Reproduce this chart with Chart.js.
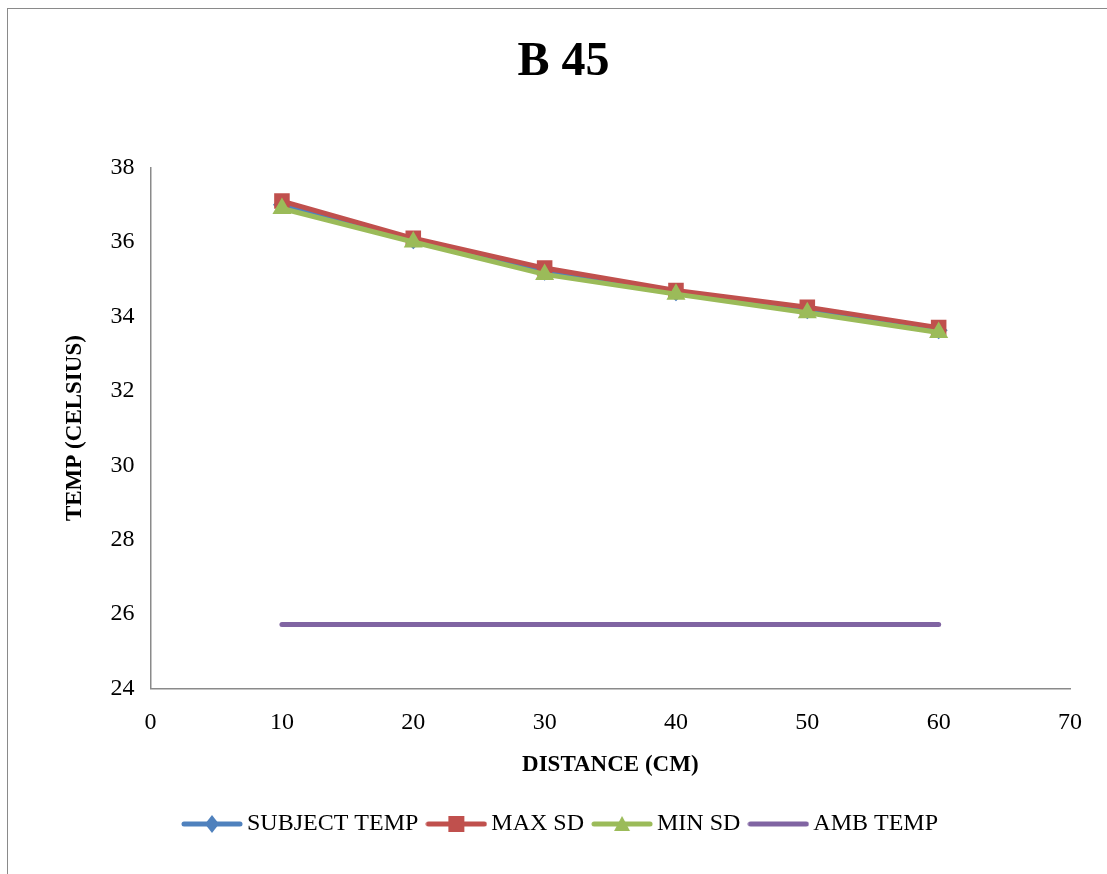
<!DOCTYPE html>
<html>
<head>
<meta charset="utf-8">
<script src="https://cdn.jsdelivr.net/npm/chart.js@4"></script>
<style>
  html, body { margin: 0; padding: 0; background: #fff; }
  #wrap { position: relative; width: 1107px; height: 874px; }
  #frame { position: absolute; left: 7px; top: 8px; width: 1110px; height: 880px; border: 1.5px solid #8a8a8a; box-sizing: border-box; pointer-events: none; }
</style>
</head>
<body>
<div id="wrap">
  <canvas id="myChart" width="1107" height="874"></canvas>
  <div id="frame"></div>
</div>
<script>
const distances = [10, 20, 30, 40, 50, 60];
const subjectTemp = [37.0, 36.05, 35.2, 34.65, 34.17, 33.63];
const maxSd = [37.1, 36.1, 35.3, 34.7, 34.25, 33.7];
const minSd = [36.9, 36.0, 35.13, 34.6, 34.1, 33.57];
const ambTemp = [25.72, 25.72, 25.72, 25.72, 25.72, 25.72];
const seriesNames = ['SUBJECT TEMP', 'MAX SD', 'MIN SD', 'AMB TEMP'];

const FONT = "'Liberation Serif', 'DejaVu Serif', serif";

function pts(values) {
    return distances.map((d, i) => ({ x: d, y: values[i] }));
}

// legend icon: line with marker in the middle
function legendIcon(color, marker) {
    const c = document.createElement('canvas');
    c.width = 62; c.height = 22;
    const g = c.getContext('2d');
    g.strokeStyle = color;
    g.lineWidth = 5;
    g.lineCap = 'round';
    g.beginPath(); g.moveTo(3, 11); g.lineTo(59, 11); g.stroke();
    g.fillStyle = color;
    if (marker === 'rectRot') {
        g.beginPath(); g.moveTo(31, 2); g.lineTo(38, 11); g.lineTo(31, 20); g.lineTo(24, 11); g.closePath(); g.fill();
    } else if (marker === 'rect') {
        g.fillRect(23, 3, 16, 16);
    } else if (marker === 'triangle') {
        g.beginPath(); g.moveTo(31, 3); g.lineTo(39, 18); g.lineTo(23, 18); g.closePath(); g.fill();
    }
    return c;
}

document.addEventListener("DOMContentLoaded", function () {
    const ctx = document.getElementById('myChart').getContext('2d');
    const colors = ['#4F81BD', '#C0504D', '#9BBB59', '#8064A2'];
    const markers = ['rectRot', 'rect', 'triangle', false];
    const series = [subjectTemp, maxSd, minSd, ambTemp];

    const datasets = series.map((vals, i) => ({
        label: seriesNames[i],
        data: pts(vals),
        borderColor: colors[i],
        backgroundColor: colors[i],
        borderWidth: 5,
        pointStyle: markers[i] || 'circle',
        pointRadius: markers[i] ? (markers[i] === 'rectRot' ? 9 : 11) : 0,
        pointBorderWidth: 0,
        borderCapStyle: 'round',
        order: 4 - i,
        tension: 0
    }));

    new Chart(ctx, {
        type: 'line',
        data: { datasets: datasets },
        options: {
            responsive: false,
            animation: false,
            layout: { padding: { left: 57, right: 37, top: 20, bottom: 28 } },
            plugins: {
                tooltip: { enabled: false },
                title: {
                    display: true,
                    text: 'B 45',
                    color: '#000',
                    font: { family: FONT, size: 48, weight: 'bold' },
                    padding: { top: 14, bottom: 76 }
                },
                legend: {
                    position: 'bottom',
                    labels: {
                        usePointStyle: true,
                        pointStyleWidth: 46,
                        boxHeight: 22,
                        color: '#000',
                        font: { family: FONT, size: 24 },
                        padding: 15,
                        generateLabels: () => seriesNames.map((n, i) => ({
                            text: n,
                            pointStyle: legendIcon(colors[i], markers[i]),
                            fillStyle: colors[i],
                            strokeStyle: colors[i],
                            lineWidth: 0,
                            datasetIndex: i
                        }))
                    }
                }
            },
            scales: {
                x: {
                    type: 'linear',
                    min: 0, max: 70,
                    grid: { display: false },
                    border: { display: true, color: '#8a8a8a', width: 1.5 },
                    ticks: { stepSize: 10, color: '#000', padding: 12, font: { family: FONT, size: 24 } },
                    title: { display: true, text: 'DISTANCE (CM)', color: '#000', padding: { top: 2, bottom: 18 }, font: { family: FONT, size: 23, weight: 'bold' } }
                },
                y: {
                    min: 24, max: 38,
                    grid: { display: false },
                    border: { display: true, color: '#8a8a8a', width: 1.5 },
                    ticks: { stepSize: 2, color: '#000', padding: 8, font: { family: FONT, size: 24 } },
                    title: { display: true, text: 'TEMP (CELSIUS)', color: '#000', padding: { bottom: 14 }, font: { family: FONT, size: 23, weight: 'bold' } }
                }
            }
        }
    });
});
</script>
</body>
</html>
